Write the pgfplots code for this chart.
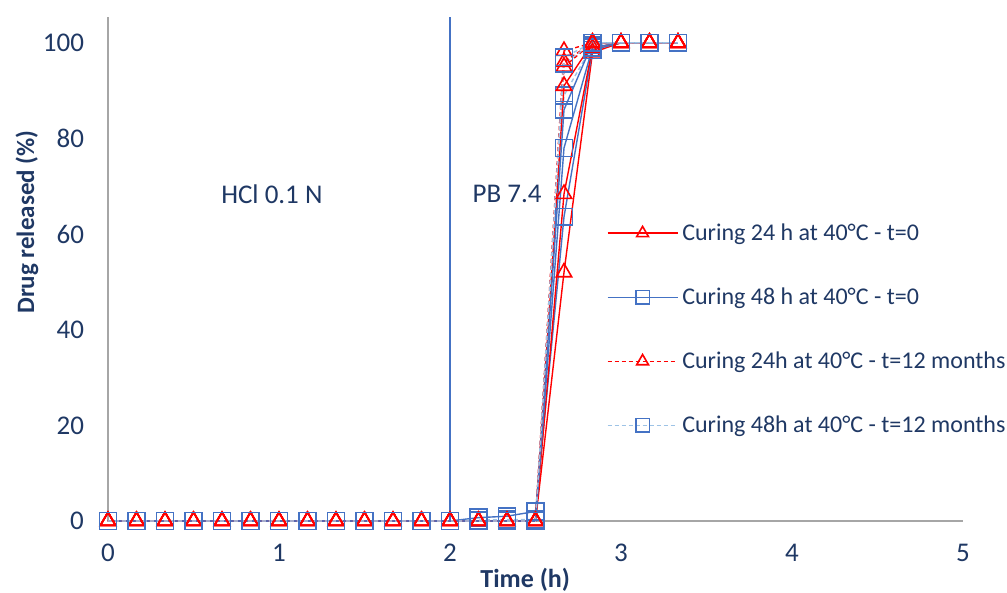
\documentclass[border=0pt]{standalone}
\usepackage{fontspec}
\setmainfont{Carlito}
\usepackage{pgfplots}
\pgfplotsset{compat=1.18}
\usepackage{pgfplotstable}
\definecolor{navy}{RGB}{31,56,100}
\definecolor{xred}{RGB}{255,0,0}
\definecolor{xblue}{RGB}{68,114,196}
\definecolor{xlblue}{RGB}{157,195,230}
\definecolor{axgray}{RGB}{166,166,166}

\pgfplotstableread{
t      r1   r2   r3   rd1  rd2  rd3  b1   b2   b3   bd1  bd2  bd3
0      0    0    0    0    0    0    0    0    0    0    0    0
0.1667 0    0    0    0    0    0    0    0    0    0    0    0
0.3333 0    0    0    0    0    0    0    0    0    0    0    0
0.5    0    0    0    0    0    0    0    0    0    0    0    0
0.6667 0    0    0    0    0    0    0    0    0    0    0    0
0.8333 0    0    0    0    0    0    0    0    0    0    0    0
1      0    0    0    0    0    0    0    0    0    0    0    0
1.1667 0    0    0    0    0    0    0    0    0    0    0    0
1.3333 0    0    0    0    0    0    0    0    0    0    0    0
1.5    0    0    0    0    0    0    0    0    0    0    0    0
1.6667 0    0    0    0    0    0    0    0    0    0    0    0
1.8333 0    0    0    0    0    0    0    0    0    0    0    0
2      0    0    0    0    0    0    0    0    0    0    0    0
2.1667 0    0    0    0    0    0    0.7  0    0    0.2  0    0
2.3333 0    0    0    0    0    0    1.0  0    0    0.3  0    0
2.5    0    0    0    0    0    0    2.0  0    0    0.3  0    0
2.6667 52   68.4 91   95   96   98.3 63.6 78   86   89   95.6 97
2.8333 98   99   100  100  100  100  98.5 99   100  99.5 100  100
3      100  100  100  100  100  100  100  100  100  100  100  100
3.1667 100  100  100  100  100  100  100  100  100  100  100  100
3.3333 100  100  100  100  100  100  100  100  100  100  100  100
}\datatable

\begin{document}
\begin{tikzpicture}
\path[use as bounding box] (-54pt,-36pt) rectangle (449.5pt,260.5pt);
\begin{axis}[
  at={(0pt,0pt)}, anchor=south west,
  scale only axis, width=427.5pt, height=252pt,
  xmin=0, xmax=5, ymin=0, ymax=105.4,
  axis x line*=bottom, axis y line*=left,
  axis line style={draw=axgray, line width=0.6pt, -},
  xtick={0,1,2,3,4,5}, ytick={0,20,40,60,80,100},
  major tick length=0pt,
  /pgf/number format/assume math mode=true,
  tick label style={font=\fontsize{13.5}{16}\selectfont, text=navy},
  yticklabel style={xshift=-8.5pt},
  xticklabel style={yshift=-8pt},
  clip=false,
  xlabel={\textbf{Time (h)}},
  xlabel style={at={(axis description cs:0.488,0)}, anchor=center, yshift=-29.5pt, font=\fontsize{13}{15}\selectfont, text=navy},
  ylabel={\textbf{Drug released (\%)}},
  ylabel style={at={(axis description cs:-0.0947,0.593)}, anchor=center, font=\fontsize{12.5}{15}\selectfont, text=navy},
  legend image code/.code={\draw[mark repeat=2, mark phase=2, #1, mark size=3.4pt] plot coordinates {(0pt,0pt) (17.5pt,0pt) (35pt,0pt)};},
  legend style={at={(axis cs:2.88,64)}, anchor=north west, draw=none, fill=none,
    font=\fontsize{12}{14.5}\selectfont, text=navy, row sep=18.2pt,
    nodes={inner sep=2pt}},
  legend cell align=left,
  every axis plot/.append style={line width=0.7pt},
]
\draw[xblue, line width=0.6pt] (axis cs:2,0) -- (axis cs:2,105.4);
\node[anchor=west, inner sep=0pt, text=navy, font=\fontsize{13.5}{16}\selectfont] at (axis cs:0.66,68.4) {HCl 0.1 N};
\node[anchor=west, inner sep=0pt, text=navy, font=\fontsize{13.5}{16}\selectfont] at (axis cs:2.13,68.4) {PB 7.4};

\addplot[color=xred, mark=triangle, mark size=4.4pt, mark options={solid, line width=0.8pt}] table[x=t, y=r1] {\datatable};
\addlegendentry{Curing 24 h at 40°C - t=0}
\addplot[color=xblue, mark=square, mark size=4.2pt, mark options={solid, line width=0.8pt}] table[x=t, y=b1] {\datatable};
\addlegendentry{Curing 48 h at 40°C - t=0}
\addplot[color=xred, dash pattern=on 2pt off 1.5pt, mark=triangle, mark size=4.4pt, mark options={solid, line width=0.8pt}] table[x=t, y=rd1] {\datatable};
\addlegendentry{Curing 24h at 40°C - t=12 months}
\addplot[color=xlblue, dash pattern=on 2pt off 1.5pt, mark=square, mark size=4.2pt, mark options={solid, draw=xblue, line width=0.8pt}] table[x=t, y=bd1] {\datatable};
\addlegendentry{Curing 48h at 40°C - t=12 months}

\addplot[forget plot, color=xred, mark=triangle, mark size=4.4pt, mark options={solid, line width=0.8pt}] table[x=t, y=r2] {\datatable};
\addplot[forget plot, color=xred, mark=triangle, mark size=4.4pt, mark options={solid, line width=0.8pt}] table[x=t, y=r3] {\datatable};
\addplot[forget plot, color=xblue, mark=square, mark size=4.2pt, mark options={solid, line width=0.8pt}] table[x=t, y=b2] {\datatable};
\addplot[forget plot, color=xblue, mark=square, mark size=4.2pt, mark options={solid, line width=0.8pt}] table[x=t, y=b3] {\datatable};
\addplot[forget plot, color=xred, dash pattern=on 2pt off 1.5pt, mark=triangle, mark size=4.4pt, mark options={solid, line width=0.8pt}] table[x=t, y=rd2] {\datatable};
\addplot[forget plot, color=xred, dash pattern=on 2pt off 1.5pt, mark=triangle, mark size=4.4pt, mark options={solid, line width=0.8pt}] table[x=t, y=rd3] {\datatable};
\addplot[forget plot, color=xlblue, dash pattern=on 2pt off 1.5pt, mark=square, mark size=4.2pt, mark options={solid, draw=xblue, line width=0.8pt}] table[x=t, y=bd2] {\datatable};
\addplot[forget plot, color=xlblue, dash pattern=on 2pt off 1.5pt, mark=square, mark size=4.2pt, mark options={solid, draw=xblue, line width=0.8pt}] table[x=t, y=bd3] {\datatable};
\end{axis}
\end{tikzpicture}
\end{document}
